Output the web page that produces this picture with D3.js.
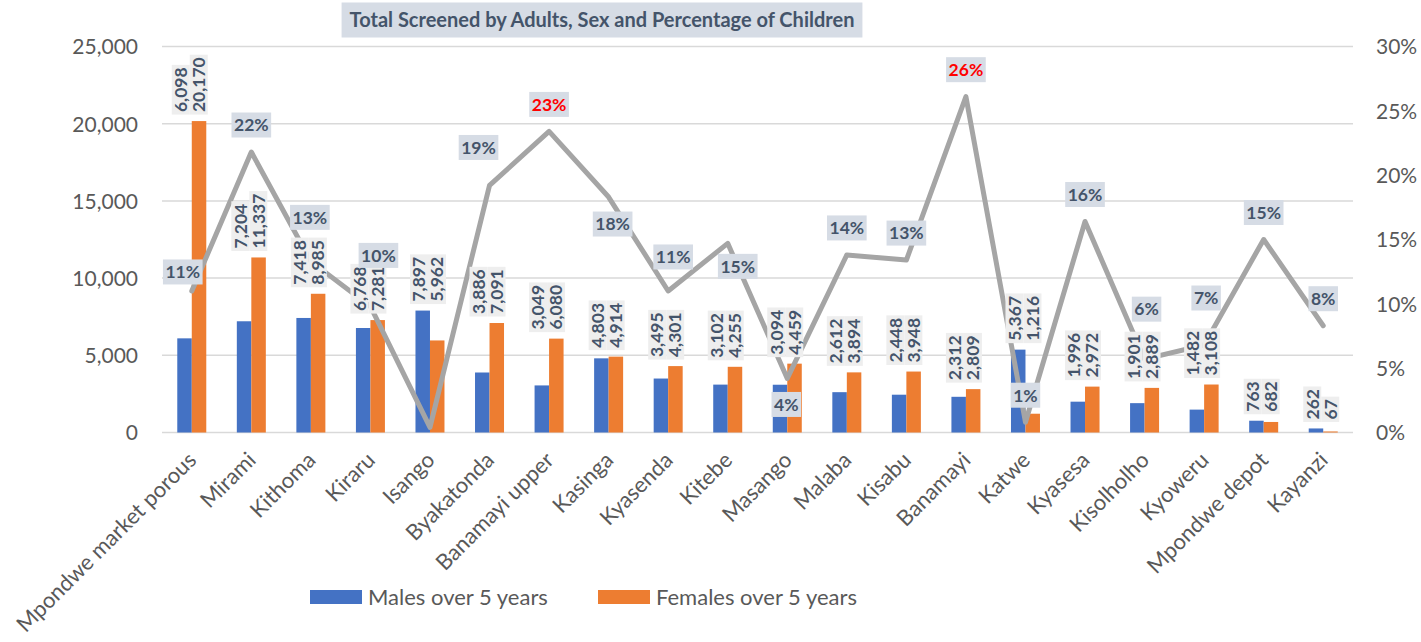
<!DOCTYPE html>
<html>
<head>
<meta charset="utf-8">
<script src="https://cdn.jsdelivr.net/npm/d3@7"></script>
<style>
  html, body { margin: 0; padding: 0; background: #fff; }
  svg { display: block; }
  text { font-family: Lato, "Open Sans", sans-serif; }
</style>
</head>
<body>
<svg id="chart" width="1421" height="642"></svg>
<script>
// Screening points
const categories = [
  "Mpondwe market porous", "Mirami", "Kithoma", "Kiraru", "Isango",
  "Byakatonda", "Banamayi upper", "Kasinga", "Kyasenda", "Kitebe",
  "Masango", "Malaba", "Kisabu", "Banamayi", "Katwe",
  "Kyasesa", "Kisolholho", "Kyoweru", "Mpondwe depot", "Kayanzi"
];
// Adults screened
const males = [6098, 7204, 7418, 6768, 7897, 3886, 3049, 4803, 3495, 3102,
               3094, 2612, 2448, 2312, 5367, 1996, 1901, 1482, 763, 262];
const females = [20170, 11337, 8985, 7281, 5962, 7091, 6080, 4914, 4301, 4255,
                 4459, 3894, 3948, 2809, 1216, 2972, 2889, 3108, 682, 67];
// Share of children among all screened
const childPct = [0.11, 0.218, 0.133, 0.098, 0.004, 0.192, 0.234, 0.183, 0.11, 0.147,
                  0.042, 0.138, 0.134, 0.261, 0.008, 0.164, 0.057, 0.068, 0.15, 0.083];
// Axis ticks
const leftTicks = [0, 5000, 10000, 15000, 20000, 25000];
const rightTicks = [0, 0.05, 0.10, 0.15, 0.20, 0.25, 0.30];
// Points whose percentage is shown in red / not labelled
const highlighted = ["Banamayi upper", "Banamayi"];
const unlabelled = ["Isango"];

const title = "Total Screened by Adults, Sex and Percentage of Children";
const seriesNames = ["Males over 5 years", "Females over 5 years"];

// Manual nudges for percentage labels (px, from the default spot above the point)
const pctLabelNudge = {
  "Mpondwe market porous": [-9, 8], "Kithoma": [-1, -17], "Kiraru": [8, -24],
  "Byakatonda": [-11, -11], "Kasinga": [4, 54], "Kyasenda": [5, -7],
  "Kitebe": [10, 50], "Masango": [-1, 53], "Kisolholho": [2, -23], "Kyoweru": [2, -20]
};

const C = {
  blue: "#4472C4", orange: "#ED7D31", line: "#A5A5A5", grid: "#D9D9D9",
  axisText: "#595959", labelText: "#44546A", pctBox: "#D6DCE5", valBox: "#EEEEEE", red: "#FF0000"
};

const svg = d3.select("#chart");
const plot = { left: 162, right: 1353, top: 46.5, bottom: 432.5 };

const x = d3.scaleBand().domain(categories).range([plot.left, plot.right]);
const bw = x.bandwidth();
const xs = d3.scaleBand().domain(["m", "f"]).range([bw / 2 - 14.5, bw / 2 + 14.5]);
const y = d3.scaleLinear().domain([0, 25000]).range([plot.bottom, plot.top]);
const y2 = d3.scaleLinear().domain([0, 0.30]).range([plot.bottom, plot.top]);

// Gridlines
svg.append("g").selectAll("line").data(leftTicks).join("line")
  .attr("x1", plot.left).attr("x2", plot.right)
  .attr("y1", d => y(d)).attr("y2", d => y(d))
  .attr("stroke", C.grid).attr("stroke-width", 1.5);

// Left axis
const gl = svg.append("g").attr("transform", `translate(${plot.left - 24},0)`)
  .call(d3.axisLeft(y).tickValues(leftTicks).tickFormat(d3.format(",")).tickSize(0).tickPadding(0));
gl.select(".domain").remove();
gl.selectAll("text").attr("font-size", 21).attr("fill", C.axisText)
  .attr("font-family", "Lato, sans-serif").attr("dy", "0.35em");

// Right axis
const gr = svg.append("g").attr("transform", `translate(${plot.right + 23},0)`)
  .call(d3.axisRight(y2).tickValues(rightTicks).tickFormat(d3.format(".0%")).tickSize(0).tickPadding(0));
gr.select(".domain").remove();
gr.selectAll("text").attr("font-size", 21).attr("fill", C.axisText)
  .attr("font-family", "Lato, sans-serif").attr("dy", "0.35em");

// Category labels
svg.append("g").selectAll("text").data(categories).join("text")
  .attr("transform", d => `translate(${x(d) + bw / 2 + 6},${plot.bottom + 29}) rotate(-45)`)
  .attr("text-anchor", "end")
  .attr("font-size", 22).attr("fill", C.axisText)
  .text(d => d);

// Bars
const rows = categories.map((c, i) => ({ c, m: males[i], f: females[i], p: childPct[i] }));
const bars = svg.append("g");
rows.forEach(r => {
  [["m", r.m, C.blue], ["f", r.f, C.orange]].forEach(([k, v, col]) => {
    bars.append("rect")
      .attr("x", x(r.c) + xs(k)).attr("width", xs.bandwidth())
      .attr("y", y(v)).attr("height", y(0) - y(v))
      .attr("fill", col);
  });
});

// Percentage of children line
const line = d3.line().x(d => x(d.c) + bw / 2).y(d => y2(d.p));
svg.append("path").datum(rows).attr("d", line)
  .attr("fill", "none").attr("stroke", C.line).attr("stroke-width", 5)
  .attr("stroke-linejoin", "round").attr("stroke-linecap", "round");

// Value labels above bar pairs (rotated)
const valG = svg.append("g");
rows.forEach(r => {
  const base = Math.min(y(r.m), y(r.f)) - 9;
  [["m", r.m, -11], ["f", r.f, 7]].forEach(([k, v, off]) => {
    const cx = x(r.c) + bw / 2 + off;
    const g = valG.append("g").attr("transform", `translate(${cx},${base}) rotate(-90)`);
    const t = g.append("text")
      .attr("x", 0).attr("y", 0).attr("dy", "0.36em")
      .attr("font-size", 17.5).attr("font-weight", 700).attr("fill", C.labelText)
      .text(d3.format(",")(v));
    const bb = t.node().getBBox();
    g.insert("rect", "text")
      .attr("x", bb.x - 2.5).attr("y", -9).attr("width", bb.width + 5).attr("height", 18)
      .attr("fill", C.valBox);
  });
});

// Percentage labels
const pctG = svg.append("g");
rows.forEach(r => {
  if (unlabelled.includes(r.c)) return;
  const n = pctLabelNudge[r.c] || [0, 0];
  const cx = x(r.c) + bw / 2 + n[0];
  const cy = y2(r.p) - 27 + n[1];
  const g = pctG.append("g").attr("transform", `translate(${cx},${cy})`);
  const t = g.append("text").attr("text-anchor", "middle").attr("dy", "0.36em")
    .attr("font-size", 17.5).attr("font-weight", 700)
    .attr("fill", highlighted.includes(r.c) ? C.red : C.labelText)
    .text(d3.format(".0%")(r.p));
  const bb = t.node().getBBox();
  g.insert("rect", "text")
    .attr("x", bb.x - 2.5).attr("y", -12.5).attr("width", bb.width + 5).attr("height", 25)
    .attr("fill", C.pctBox);
});

// Title
const tg = svg.append("g").attr("transform", "translate(602,20)");
const tt = tg.append("text").attr("text-anchor", "middle").attr("dy", "0.36em")
  .attr("font-size", 20).attr("font-weight", 700).attr("fill", C.labelText).text(title);
const tb = tt.node().getBBox();
tg.insert("rect", "text").attr("x", tb.x - 8).attr("y", -17.5).attr("width", tb.width + 16).attr("height", 35)
  .attr("fill", C.pctBox);

// Legend
const legend = [
  { name: seriesNames[0], color: C.blue, x: 310 },
  { name: seriesNames[1], color: C.orange, x: 598 }
];
const lg = svg.append("g").selectAll("g").data(legend).join("g")
  .attr("transform", d => `translate(${d.x},590)`);
lg.append("rect").attr("width", 52).attr("height", 14).attr("fill", d => d.color);
lg.append("text").attr("x", 58).attr("y", 7).attr("dy", "0.36em")
  .attr("font-size", 22).attr("fill", C.axisText).text(d => d.name);
</script>
</body>
</html>
